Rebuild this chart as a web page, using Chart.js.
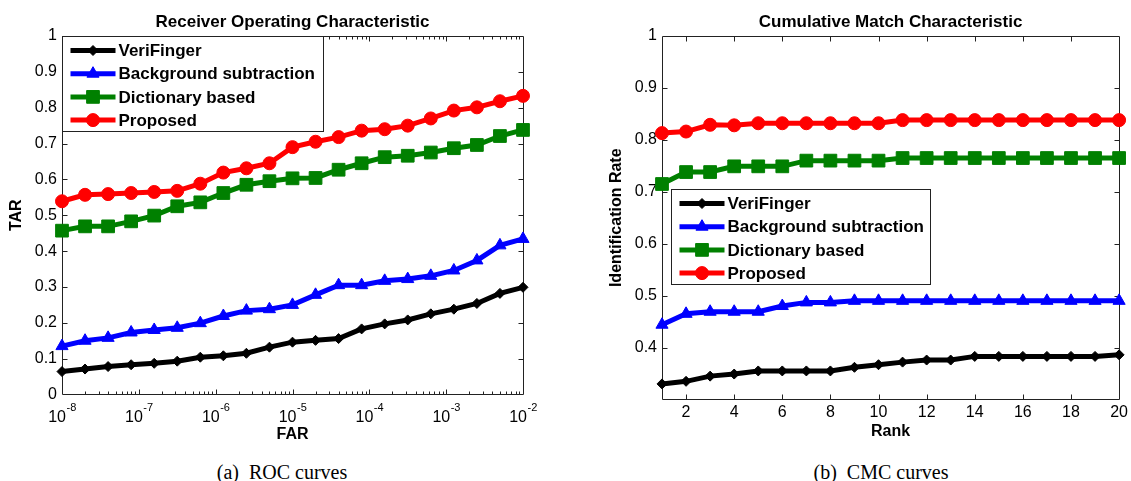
<!DOCTYPE html>
<html><head><meta charset="utf-8">
<script src="https://cdn.jsdelivr.net/npm/chart.js@4.4.1/dist/chart.umd.min.js"></script>
<style>
html,body{margin:0;padding:0;background:#fff;}
body{width:1131px;height:481px;position:relative;overflow:hidden;}
.wrap{position:absolute;top:0;height:450px;}
#wa{left:0;width:565px;} #wb{left:565px;width:566px;}
.cap{position:absolute;top:460px;font-family:'Liberation Serif','Times New Roman',serif;font-size:20px;line-height:24px;white-space:pre;transform:translateX(-50%);color:#000}
</style></head><body>
<div class="wrap" id="wa"><canvas id="roc" width="565" height="450"></canvas></div>
<div class="wrap" id="wb"><canvas id="cmc" width="566" height="450"></canvas></div>
<div class="cap" style="left:282px">(a)  ROC curves</div>
<div class="cap" style="left:881px">(b)  CMC curves</div>
<script>
// ---------- data ----------
const seriesNames = ['VeriFinger', 'Background subtraction', 'Dictionary based', 'Proposed'];
const chartTitles = ['Receiver Operating Characteristic', 'Cumulative Match Characteristic'];

const rocFar = [1e-8, 1.995e-8, 3.98e-8, 7.94e-8, 1.585e-7, 3.16e-7, 6.31e-7, 1.259e-6, 2.512e-6, 5.01e-6,
                1e-5, 1.995e-5, 3.98e-5, 7.94e-5, 1.585e-4, 3.16e-4, 6.31e-4, 1.259e-3, 2.512e-3, 5.01e-3, 1e-2];
const rocVeriFinger = [0.064, 0.071, 0.078, 0.083, 0.087, 0.093, 0.104, 0.108, 0.115, 0.132, 0.146,
                       0.151, 0.156, 0.183, 0.197, 0.208, 0.225, 0.238, 0.254, 0.282, 0.299];
const rocBackground = [0.135, 0.150, 0.158, 0.173, 0.180, 0.186, 0.199, 0.219, 0.234, 0.238, 0.250,
                       0.278, 0.305, 0.305, 0.317, 0.322, 0.331, 0.346, 0.374, 0.416, 0.434];
const rocDictionary = [0.457, 0.469, 0.469, 0.483, 0.499, 0.525, 0.536, 0.562, 0.585, 0.595, 0.603,
                       0.604, 0.627, 0.645, 0.662, 0.666, 0.675, 0.687, 0.696, 0.721, 0.738];
const rocProposed   = [0.539, 0.557, 0.559, 0.562, 0.565, 0.568, 0.588, 0.619, 0.631, 0.645, 0.690,
                       0.705, 0.718, 0.736, 0.740, 0.750, 0.770, 0.792, 0.801, 0.818, 0.833];

const cmcRank = [1, 2, 3, 4, 5, 6, 7, 8, 9, 10, 11, 12, 13, 14, 15, 16, 17, 18, 19, 20];
const cmcVeriFinger = [0.330, 0.335, 0.345, 0.349, 0.355, 0.355, 0.355, 0.355, 0.362, 0.367,
                       0.372, 0.376, 0.376, 0.383, 0.383, 0.383, 0.383, 0.383, 0.383, 0.386];
const cmcBackground = [0.444, 0.465, 0.469, 0.469, 0.469, 0.480, 0.487, 0.487, 0.490, 0.490,
                       0.490, 0.490, 0.490, 0.490, 0.490, 0.490, 0.490, 0.490, 0.490, 0.490];
const cmcDictionary = [0.715, 0.738, 0.738, 0.749, 0.749, 0.749, 0.760, 0.760, 0.760, 0.760,
                       0.765, 0.765, 0.765, 0.765, 0.765, 0.765, 0.765, 0.765, 0.765, 0.765];
const cmcProposed   = [0.813, 0.816, 0.829, 0.828, 0.832, 0.832, 0.832, 0.832, 0.832, 0.832,
                       0.838, 0.838, 0.838, 0.838, 0.838, 0.838, 0.838, 0.838, 0.838, 0.838];

// tick labels
const rocXExponents = [-8, -7, -6, -5, -4, -3, -2];
const rocYTicks = [0, 0.1, 0.2, 0.3, 0.4, 0.5, 0.6, 0.7, 0.8, 0.9, 1];
const cmcXTicks = [2, 4, 6, 8, 10, 12, 14, 16, 18, 20];
const cmcYTicks = [0.4, 0.5, 0.6, 0.7, 0.8, 0.9, 1];

// ---------- styling ----------
const FONT = "'Liberation Sans', Arial, Helvetica, sans-serif";
const colors = ['#000000', '#0000ff', '#008000', '#ff0000'];
const markers = ['rectRot', 'triangle', 'rect', 'circle'];
const markerRadius = [5, 7, 9, 6.5];

Chart.defaults.font.family = FONT;
Chart.defaults.color = '#000';

const fmt = v => String(Number(v.toFixed(2)));

function marker(ctx, style, r, x, y) {
  ctx.beginPath();
  if (style === 'circle') {
    ctx.arc(x, y, r, 0, Math.PI * 2);
  } else if (style === 'rect') {
    const h = r * Math.SQRT1_2;
    ctx.rect(x - h, y - h, 2 * h, 2 * h);
  } else if (style === 'rectRot') {
    ctx.moveTo(x, y - r); ctx.lineTo(x + r, y); ctx.lineTo(x, y + r); ctx.lineTo(x - r, y);
  } else if (style === 'triangle') {
    for (let k = 0; k < 3; k++) {
      const a = k * 2 * Math.PI / 3;
      const px = x + Math.sin(a) * r, py = y - Math.cos(a) * r;
      if (k === 0) ctx.moveTo(px, py); else ctx.lineTo(px, py);
    }
  }
  ctx.closePath();
  ctx.fill();
  ctx.stroke();
}

function makeDatasets(xs, ys) {
  return ys.map((arr, i) => ({
    label: seriesNames[i],
    data: arr.map((v, j) => ({ x: xs[j], y: v })),
    borderColor: colors[i],
    backgroundColor: colors[i],
    pointBackgroundColor: colors[i],
    pointBorderColor: colors[i],
    pointBorderWidth: 1,
    pointStyle: markers[i],
    pointRadius: markerRadius[i],
    borderWidth: 5,
    tension: 0,
    clip: false
  }));
}

// MATLAB-like box with inward ticks, centred title, power-of-ten labels
const matlabAxes = {
  id: 'matlabAxes',
  beforeDatasetsDraw(chart, args, opts) {
    const { ctx, chartArea: a } = chart;
    const L = Math.floor(a.left) + 0.5, R = Math.floor(a.right) + 0.5;
    const T = Math.floor(a.top) + 0.5, B = Math.floor(a.bottom) + 0.5;
    ctx.save();
    ctx.strokeStyle = '#222';
    ctx.lineWidth = 1;
    ctx.beginPath();
    ctx.rect(L, T, R - L, B - T);
    const xs = chart.scales.x, ys = chart.scales.y;
    xs.ticks.forEach(t => {
      const px = Math.round(xs.getPixelForValue(t.value)) + 0.5;
      if (Math.abs(px - L) < 1.5 || Math.abs(px - R) < 1.5) return;
      let major = true;
      if (xs.type === 'logarithmic') {
        const lg = Math.log10(t.value);
        major = Math.abs(lg - Math.round(lg)) < 1e-6;
      }
      const len = major ? 5 : 3;
      ctx.moveTo(px, B); ctx.lineTo(px, B - len);
      ctx.moveTo(px, T); ctx.lineTo(px, T + len);
    });
    ys.ticks.forEach(t => {
      const py = Math.round(ys.getPixelForValue(t.value)) + 0.5;
      if (Math.abs(py - T) < 1.5 || Math.abs(py - B) < 1.5) return;
      ctx.moveTo(L, py); ctx.lineTo(L + 5, py);
      ctx.moveTo(R, py); ctx.lineTo(R - 5, py);
    });
    ctx.stroke();
    ctx.restore();
  },
  afterDraw(chart, args, opts) {
    const { ctx, chartArea: a } = chart;
    ctx.save();
    ctx.fillStyle = '#000';
    if (opts.title) {
      ctx.font = 'bold 17px ' + FONT;
      ctx.textAlign = 'center';
      ctx.textBaseline = 'alphabetic';
      ctx.fillText(opts.title, (a.left + a.right) / 2, a.top - 9);
    }
    if (opts.powerLabels) {
      const xs = chart.scales.x;
      const baseY = a.bottom + 27.5;
      ctx.textBaseline = 'alphabetic';
      ctx.textAlign = 'left';
      opts.powerLabels.forEach(e => {
        const px = xs.getPixelForValue(Math.pow(10, e));
        const base = '10', ex = String(e);
        ctx.font = '16px ' + FONT;
        const w1 = ctx.measureText(base).width;
        ctx.font = '11px ' + FONT;
        const w2 = ctx.measureText(ex).width;
        const x0 = px - (w1 + w2) / 2;
        ctx.font = '16px ' + FONT;
        ctx.fillText(base, x0, baseY);
        ctx.font = '11px ' + FONT;
        ctx.fillText(ex, x0 + w1 + 0.5, baseY - 11);
      });
    }
    ctx.restore();
  }
};

const boxLegend = {
  id: 'boxLegend',
  afterDatasetsDraw(chart, args, o) {
    const { ctx, chartArea: a } = chart;
    const x0 = Math.floor(a.left + o.dx) + 0.5, y0 = Math.floor(a.top + o.dy) + 0.5;
    ctx.save();
    ctx.fillStyle = '#fff';
    ctx.fillRect(x0, y0, o.w, o.h);
    ctx.strokeStyle = '#222';
    ctx.lineWidth = 1;
    ctx.strokeRect(x0, y0, o.w, o.h);
    chart.data.datasets.forEach((ds, i) => {
      const cy = y0 + o.firstRow + i * o.rowStep;
      ctx.strokeStyle = ds.borderColor;
      ctx.lineWidth = ds.borderWidth;
      ctx.beginPath();
      ctx.moveTo(x0 + o.lineFrom, cy); ctx.lineTo(x0 + o.lineTo, cy);
      ctx.stroke();
      ctx.fillStyle = ds.pointBackgroundColor;
      ctx.strokeStyle = ds.pointBorderColor;
      ctx.lineWidth = 1;
      marker(ctx, ds.pointStyle, ds.pointRadius, x0 + (o.lineFrom + o.lineTo) / 2, cy);
      ctx.fillStyle = '#000';
      ctx.font = 'bold 17px ' + FONT;
      ctx.textBaseline = 'middle';
      ctx.textAlign = 'left';
      ctx.fillText(ds.label, x0 + o.textX, cy + 1);
    });
    ctx.restore();
  }
};

function baseOptions() {
  return {
    responsive: false,
    animation: false,
    events: [],
    plugins: {
      legend: { display: false },
      tooltip: { enabled: false },
      title: { display: false }
    }
  };
}

// ---------- ROC ----------
const rocOpts = baseOptions();
rocOpts.layout = { padding: { left: 0, right: 42, top: 36, bottom: 0 } };
rocOpts.plugins.matlabAxes = { powerLabels: rocXExponents, title: chartTitles[0] };
rocOpts.plugins.boxLegend = { dx: 0, dy: 0, w: 261, h: 95, firstRow: 14, rowStep: 23.2, lineFrom: 8, lineTo: 53, textX: 56 };
rocOpts.scales = {
  x: {
    type: 'logarithmic', min: 1e-8, max: 1e-2,
    grid: { display: false, drawTicks: false }, border: { display: false },
    ticks: { display: false },
    title: { display: true, text: 'FAR', color: '#000', font: { size: 16, weight: 'bold' }, padding: { top: 0, bottom: 5.4 } },
    afterBuildTicks(s) {
      const t = [];
      const lo = rocXExponents[0], hi = rocXExponents[rocXExponents.length - 1];
      for (let e = lo; e < hi; e++) for (let m = 1; m <= 9; m++) t.push({ value: m * Math.pow(10, e) });
      t.push({ value: Math.pow(10, hi) });
      s.ticks = t;
    },
    afterFit(s) { s.height = 55.5; }
  },
  y: {
    min: 0, max: 1,
    grid: { display: false, drawTicks: false }, border: { display: false },
    ticks: { color: '#000', font: { size: 16 }, padding: 5, callback: v => fmt(v) },
    title: { display: true, text: 'TAR', color: '#000', font: { size: 16, weight: 'bold' }, padding: { top: 7, bottom: 0 } },
    afterBuildTicks(s) { s.ticks = rocYTicks.map(v => ({ value: v })); },
    afterFit(s) { s.width = 62; }
  }
};
new Chart(document.getElementById('roc'), {
  type: 'line',
  data: { datasets: makeDatasets(rocFar, [rocVeriFinger, rocBackground, rocDictionary, rocProposed]) },
  options: rocOpts,
  plugins: [matlabAxes, boxLegend]
});

// ---------- CMC ----------
const cmcOpts = baseOptions();
cmcOpts.layout = { padding: { left: 0, right: 9, top: 36, bottom: 0 } };
cmcOpts.plugins.matlabAxes = { title: chartTitles[1] };
cmcOpts.plugins.boxLegend = { dx: 9, dy: 153, w: 259, h: 95, firstRow: 14, rowStep: 23.2, lineFrom: 8, lineTo: 53, textX: 56 };
cmcOpts.scales = {
  x: {
    type: 'linear', min: 1, max: 20,
    grid: { display: false, drawTicks: false }, border: { display: false },
    ticks: { color: '#000', font: { size: 16 }, padding: 3, maxRotation: 0, autoSkip: false, callback: v => fmt(v) },
    title: { display: true, text: 'Rank', color: '#000', font: { size: 16, weight: 'bold' }, padding: { top: 0, bottom: 8.4 } },
    afterBuildTicks(s) { s.ticks = cmcXTicks.map(v => ({ value: v })); },
    afterFit(s) { s.height = 50.5; }
  },
  y: {
    min: 0.3, max: 1,
    grid: { display: false, drawTicks: false }, border: { display: false },
    ticks: { color: '#000', font: { size: 16 }, padding: 5, callback: v => fmt(v) },
    title: { display: true, text: 'Identification Rate', color: '#000', font: { size: 16, weight: 'bold' }, padding: { top: 42.4, bottom: 0 } },
    afterBuildTicks(s) { s.ticks = cmcYTicks.map(v => ({ value: v })); },
    afterFit(s) { s.width = 97; }
  }
};
new Chart(document.getElementById('cmc'), {
  type: 'line',
  data: { datasets: makeDatasets(cmcRank, [cmcVeriFinger, cmcBackground, cmcDictionary, cmcProposed]) },
  options: cmcOpts,
  plugins: [matlabAxes, boxLegend]
});
</script>
</body></html>
